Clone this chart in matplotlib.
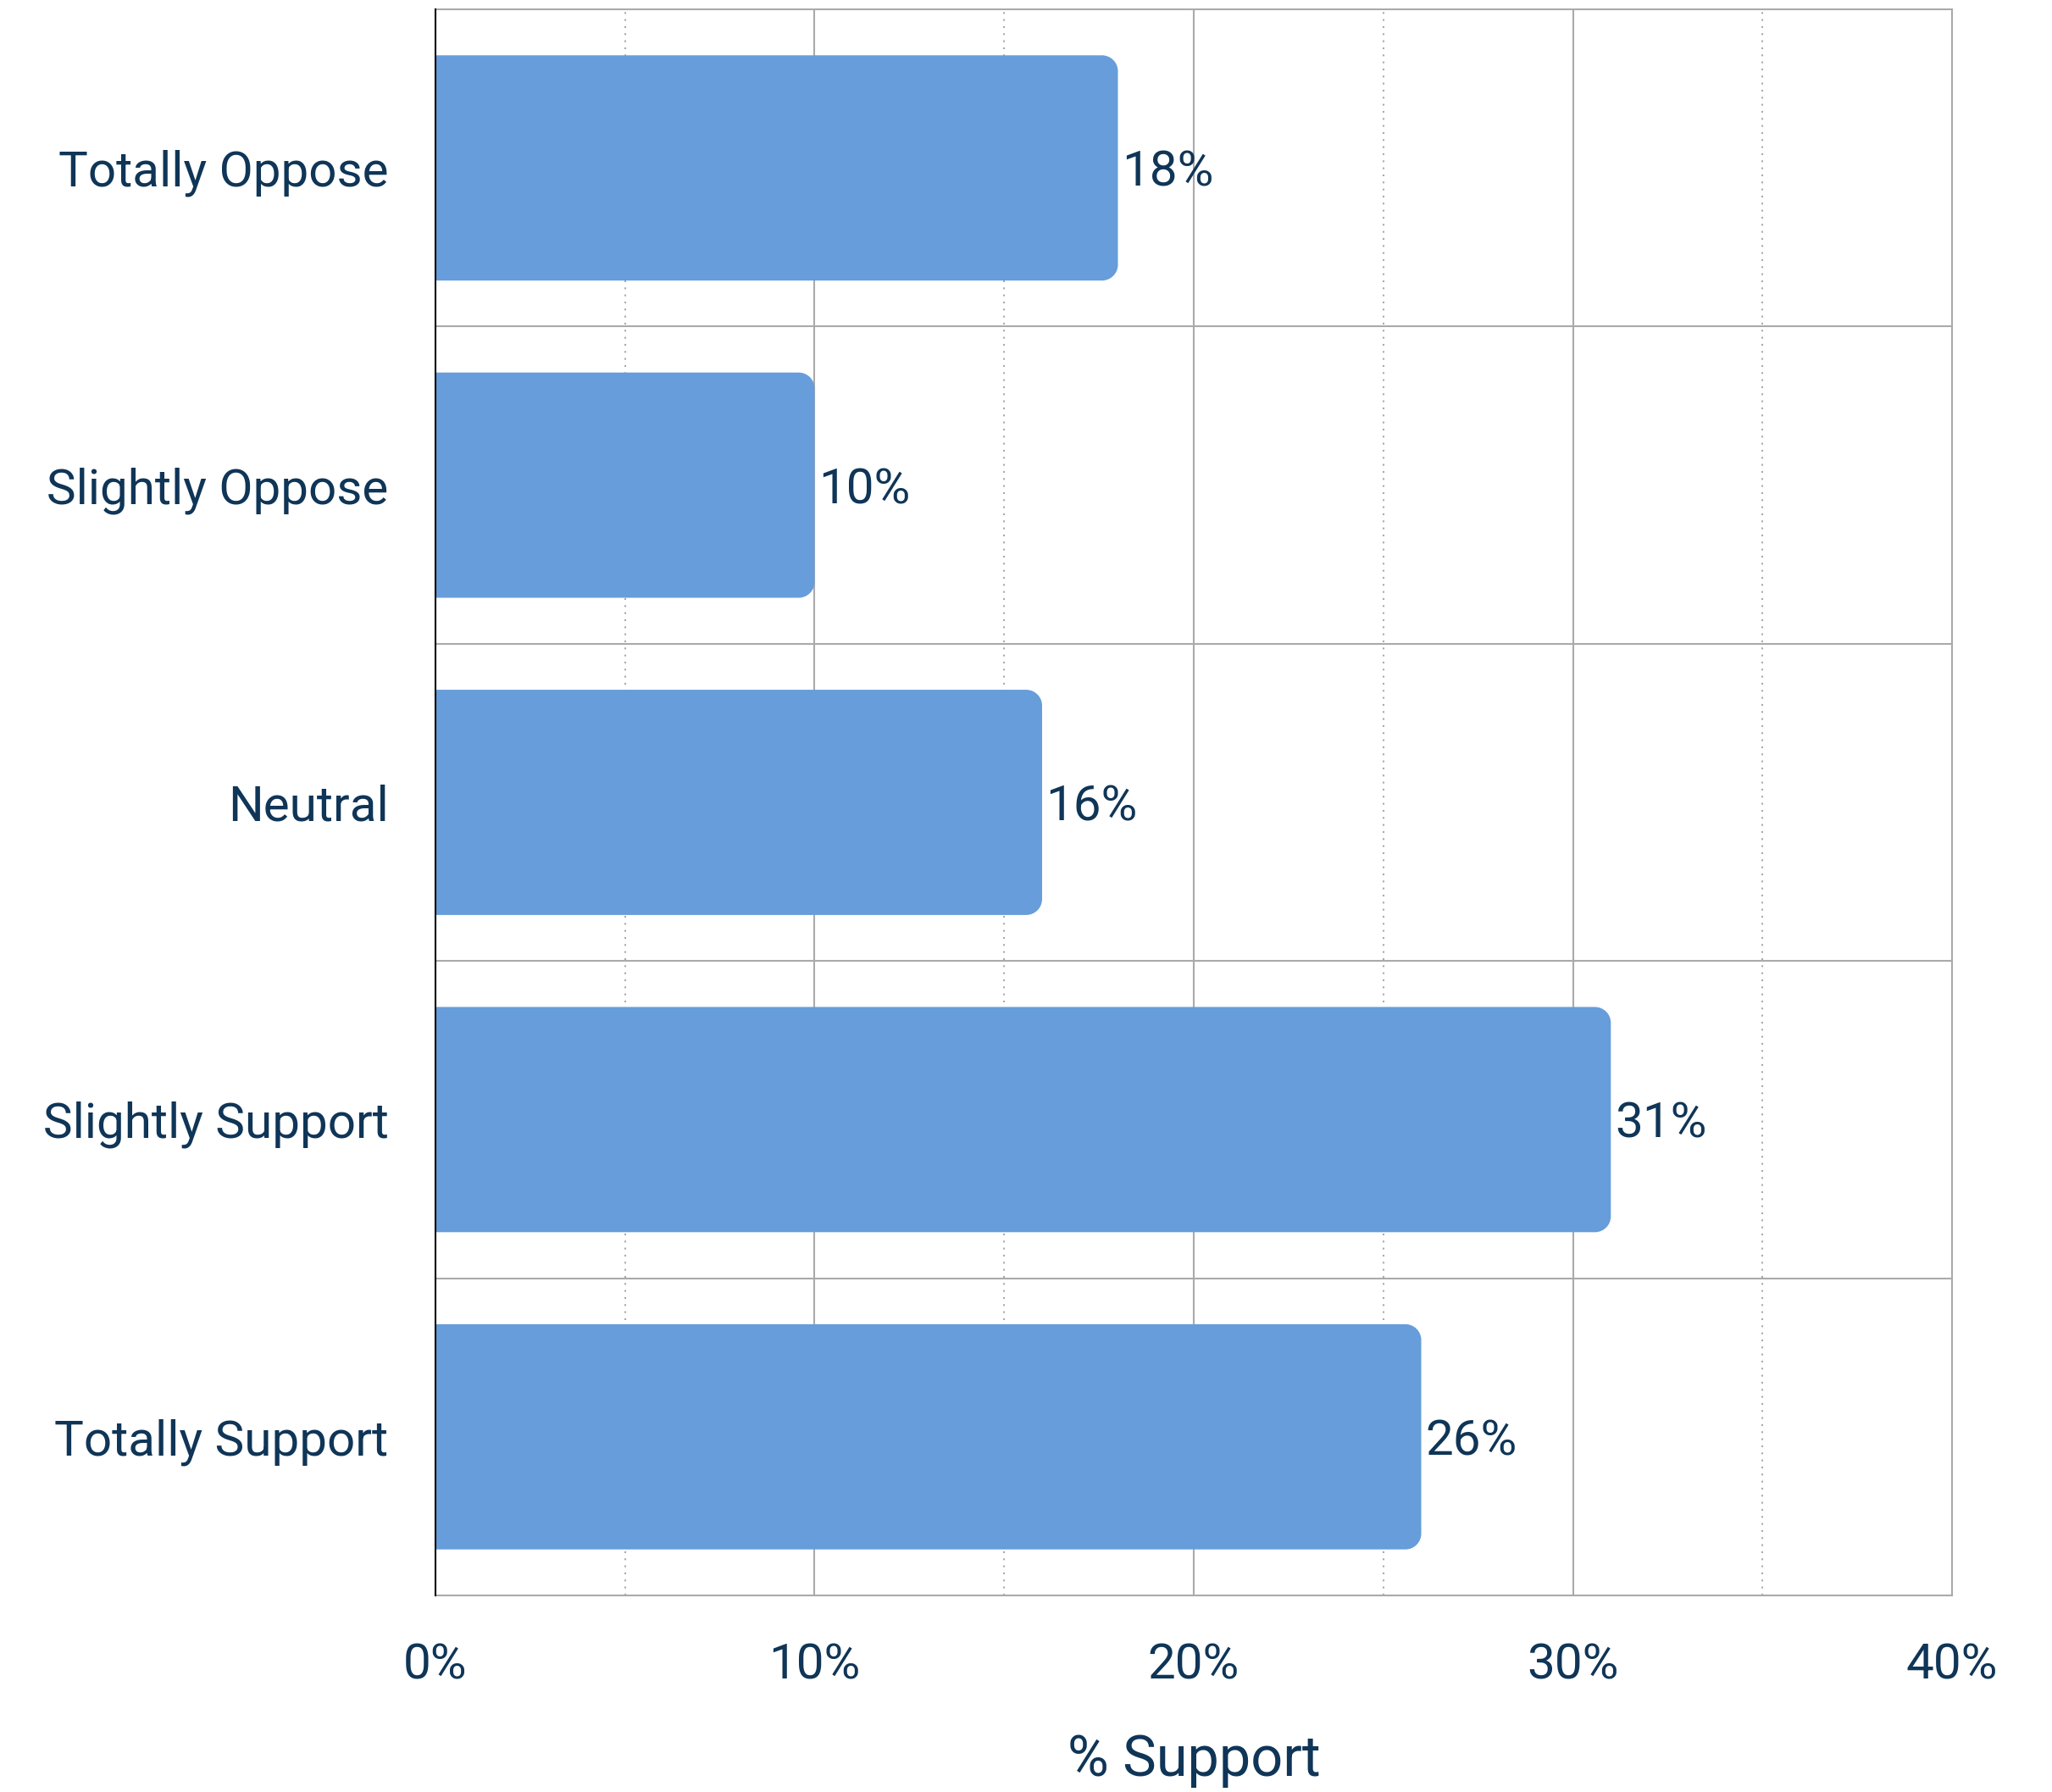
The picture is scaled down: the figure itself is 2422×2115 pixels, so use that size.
import matplotlib
matplotlib.use('Agg')
import matplotlib.pyplot as plt
from matplotlib.path import Path
from matplotlib.patches import PathPatch

# 데이터
categories = ['Totally Oppose', 'Slightly Oppose', 'Neutral', 'Slightly Support', 'Totally Support']
values = [18, 10, 16, 31, 26]
xticks = [0, 10, 20, 30, 40]
xtick_labels = ['0%', '10%', '20%', '30%', '40%']

bar_color = '#669DDA'
text_color = '#0F3557'
grid_color = '#AAAAAA'

plt.rcParams['font.family'] = ['Roboto', 'DejaVu Sans']

fig = plt.figure(figsize=(24.22, 21.15), dpi=100)
ax = fig.add_axes([0.2122, 0.1097, 0.9513 - 0.2122, 0.9948 - 0.1097])

ypos = list(range(len(categories)))
bars = ax.barh(ypos, values, height=0.71, color=bar_color, zorder=3)


# 오른쪽 모서리만 둥글게
def round_right(rect, rx, ry):
    x0, y0 = rect.get_x(), rect.get_y()
    x1, y1 = x0 + rect.get_width(), y0 + rect.get_height()
    k = 0.5523
    verts = [(x0, y0), (x1 - rx, y0),
             (x1 - rx + k * rx, y0), (x1, y0 + ry - k * ry), (x1, y0 + ry),
             (x1, y1 - ry),
             (x1, y1 - ry + k * ry), (x1 - rx + k * rx, y1), (x1 - rx, y1),
             (x0, y1), (x0, y0)]
    codes = [Path.MOVETO, Path.LINETO,
             Path.CURVE4, Path.CURVE4, Path.CURVE4,
             Path.LINETO,
             Path.CURVE4, Path.CURVE4, Path.CURVE4,
             Path.LINETO, Path.CLOSEPOLY]
    return Path(verts, codes)


for b in bars:
    p = PathPatch(round_right(b, 0.42, 0.05), facecolor=bar_color, edgecolor='none', zorder=3)
    ax.add_patch(p)
    b.set_visible(False)

# 값 라벨
for y, v in zip(ypos, values):
    ax.text(v + 0.1, y, f'{v}%', va='center_baseline', ha='left', fontsize=42, color=text_color, zorder=4)

ax.set_xlim(0, 40)
ax.set_ylim(len(categories) - 0.5, -0.5)
ax.set_xticks(xticks)
ax.set_xticklabels(xtick_labels)
ax.set_yticks(ypos)
ax.set_yticklabels(categories)

# 그리드
for x in [10, 20, 30]:
    ax.axvline(x, color=grid_color, lw=1.5, zorder=1)
for x in [5, 15, 25, 35]:
    ax.axvline(x, color=grid_color, lw=1.5, ls=(0, (1, 3)), zorder=1)
for y in [0.5, 1.5, 2.5, 3.5]:
    ax.axhline(y, color=grid_color, lw=1.5, zorder=1)

for s in ['top', 'right', 'bottom']:
    ax.spines[s].set_color(grid_color)
    ax.spines[s].set_linewidth(1.5)
ax.spines['left'].set_color('black')
ax.spines['left'].set_linewidth(1.5)
ax.spines['left'].set_zorder(5)

ax.tick_params(axis='both', length=0, labelsize=42, labelcolor=text_color)
ax.tick_params(axis='x', pad=40)
ax.tick_params(axis='y', pad=40)
ax.set_xlabel('% Support', fontsize=48, color=text_color, labelpad=38)

fig.savefig('out.png', dpi=100, facecolor='white')
